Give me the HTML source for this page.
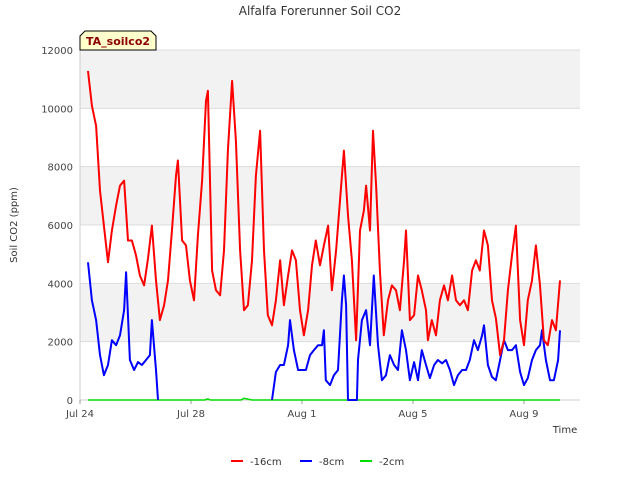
<!DOCTYPE html>
<html><head><meta charset="utf-8"><style>
body{margin:0;background:#fff;}
svg{display:block;font-family:"DejaVu Sans","Liberation Sans",sans-serif;}
</style></head><body>
<svg id="chart" width="640" height="480" viewBox="0 0 640 480">
<text x="320" y="15" text-anchor="middle" font-size="12" fill="#333">Alfalfa Forerunner Soil CO2</text>
<g id="plot"></g>
<text transform="translate(17,225) rotate(-90)" text-anchor="middle" font-size="10" fill="#333">Soil CO2 (ppm)</text>
<text x="565" y="433" text-anchor="middle" font-size="10" fill="#333">Time</text>
<g>
<path d="M80,50 L80,36 L85,31 L151,31 L156,36 L156,50 Z" fill="#ffffcc" stroke="#000" stroke-width="1"/>
<text x="86" y="45" font-size="11" font-weight="bold" fill="#8b0000">TA_soilco2</text>
</g>
<g>
<g><line x1="231" y1="461" x2="243" y2="461" stroke="#f00" stroke-width="2"/><text x="250" y="465" font-size="10" fill="#333">-16cm</text></g>
<g><line x1="300" y1="461" x2="312" y2="461" stroke="#00f" stroke-width="2"/><text x="319" y="465" font-size="10" fill="#333">-8cm</text></g>
<g><line x1="360" y1="461" x2="372" y2="461" stroke="#0d0" stroke-width="2"/><text x="379" y="465" font-size="10" fill="#333">-2cm</text></g>
</g>
</svg>
<script>
const yTicks=[0,2000,4000,6000,8000,10000,12000];
const xTickDays=[0,4,8,12,16];
const xTickLabels=["Jul 24","Jul 28","Aug 1","Aug 5","Aug 9"];
const redDays=[0.29,0.43,0.58,0.72,0.86,1.01,1.15,1.30,1.44,1.59,1.73,1.87,2.02,2.16,2.31,2.45,2.59,2.74,2.88,3.03,3.17,3.32,3.46,3.53,3.68,3.82,3.96,4.11,4.25,4.40,4.54,4.61,4.76,4.90,5.05,5.19,5.33,5.48,5.62,5.77,5.91,6.05,6.20,6.34,6.49,6.63,6.77,6.92,7.06,7.21,7.35,7.50,7.64,7.78,7.93,8.07,8.22,8.36,8.50,8.65,8.79,8.94,9.08,9.23,9.37,9.51,9.66,9.80,9.95,10.09,10.23,10.31,10.45,10.56,10.67,10.81,10.95,11.10,11.24,11.39,11.53,11.68,11.75,11.89,12.04,12.18,12.32,12.47,12.54,12.68,12.83,12.97,13.12,13.26,13.41,13.55,13.69,13.84,13.98,14.13,14.27,14.41,14.56,14.70,14.85,14.99,15.14,15.28,15.42,15.57,15.71,15.86,16.00,16.14,16.29,16.43,16.58,16.72,16.86,17.01,17.15,17.30];
const redValues=[11280,10090,9400,7180,5980,4720,5810,6670,7350,7520,5470,5470,4960,4270,3930,4850,5980,4100,2740,3250,4100,5880,7690,8210,5470,5300,4100,3420,5640,7520,10260,10600,4440,3760,3590,5130,8550,10940,8890,5130,3080,3250,4790,7690,9230,5130,2910,2560,3420,4790,3250,4270,5130,4790,3080,2220,3080,4620,5470,4620,5300,5980,3760,5130,6840,8550,6330,4790,2050,5810,6500,7350,5810,9230,7350,4440,2220,3420,3930,3760,3080,4790,5810,2740,2910,4270,3760,3080,2050,2740,2220,3420,3930,3420,4270,3420,3250,3420,3080,4440,4790,4440,5810,5300,3420,2800,1540,2050,3760,4960,5980,2740,1880,3420,4100,5300,3930,2050,1880,2740,2390,4100];
const blueDays=[0.29,0.43,0.58,0.72,0.86,1.01,1.15,1.30,1.44,1.59,1.66,1.80,1.95,2.09,2.23,2.38,2.52,2.59,2.74,2.81,null,6.92,7.06,7.21,7.35,7.50,7.57,7.71,7.86,8.00,8.14,8.29,8.43,8.58,8.72,8.79,8.86,9.01,9.15,9.30,9.44,9.51,9.59,9.66,9.98,10.02,10.16,10.31,10.45,10.59,10.74,10.88,11.03,11.17,11.32,11.46,11.60,11.75,11.89,12.04,12.18,12.32,12.47,12.61,12.76,12.90,13.05,13.19,13.33,13.48,13.62,13.77,13.91,14.05,14.20,14.34,14.49,14.56,14.70,14.85,14.99,15.14,15.28,15.42,15.57,15.71,15.86,16.00,16.14,16.29,16.43,16.58,16.65,16.79,16.94,17.08,17.23,17.30];
const blueValues=[4720,3420,2740,1540,850,1200,2050,1880,2220,3080,4380,1370,1030,1300,1200,1370,1540,2740,1030,0,null,0,960,1200,1200,1880,2740,1710,1030,1030,1030,1540,1710,1880,1880,2390,680,510,850,1030,3420,4270,3250,0,0,1370,2740,3080,1880,4270,1880,680,850,1540,1200,1030,2390,1710,680,1300,680,1710,1200,750,1200,1370,1260,1370,1030,510,850,1030,1030,1370,2050,1710,2220,2560,1200,790,680,1370,2050,1710,1710,1880,960,510,750,1370,1710,1880,2390,1370,680,680,1370,2390];
const greenDays=[0.29,4.50,4.61,4.70,5.80,5.91,6.05,6.20,17.30];
const greenValues=[0,0,40,0,0,60,30,0,0];

const NS="http://www.w3.org/2000/svg";
const L=80,R=580,T=50,B=400,D0=0,D1=18.02,V1=12000;
function xs(d){return L+(d-D0)/(D1-D0)*(R-L);}
function ys(v){return B-v/V1*(B-T);}
const plot=document.getElementById('plot');
function mk(tag,attrs){const e=document.createElementNS(NS,tag);for(const k in attrs)e.setAttribute(k,attrs[k]);plot.appendChild(e);return e;}
for(let i=0;i<yTicks.length-1;i++){
  if(i%2===1){
    const r=mk('rect',{x:L,y:ys(yTicks[i+1]),width:R-L,height:ys(yTicks[i])-ys(yTicks[i+1]),fill:'#f2f2f2'});
    
    
  }
}
yTicks.forEach(v=>{
  const g=mk('line',{x1:L,x2:R,y1:ys(v),y2:ys(v),stroke:'#dcdcdc','stroke-width':1});
  
  
  const t=mk('text',{x:73,y:ys(v)+4,'text-anchor':'end','font-size':10,fill:'#444'});
  t.textContent=v;
  
  
});
const ax=mk('line',{x1:L,x2:L,y1:T,y2:B,stroke:'#ccc'});


const ax2=mk('line',{x1:L,x2:R,y1:B,y2:B,stroke:'#ccc'});


xTickDays.forEach((d,i)=>{
  const tk=mk('line',{x1:xs(d),x2:xs(d),y1:B,y2:B+4,stroke:'#999'});
  
  
  const t=mk('text',{x:xs(d),y:B+17,'text-anchor':'middle','font-size':10,fill:'#444'});
  t.textContent=xTickLabels[i];
  
  
});
function pathD(ds,vs){let s='',pen=false;for(let i=0;i<ds.length;i++){if(ds[i]===null||vs[i]===null){pen=false;continue;}s+=(pen?'L':'M')+xs(ds[i]).toFixed(1)+','+ys(vs[i]).toFixed(1);pen=true;}return s;}
const gp=mk('path',{d:pathD(greenDays,greenValues),fill:'none',stroke:'#0d0','stroke-width':1.5});


const bp=mk('path',{d:pathD(blueDays,blueValues),fill:'none',stroke:'#00f','stroke-width':2,'stroke-linejoin':'round'});


const rp=mk('path',{d:pathD(redDays,redValues),fill:'none',stroke:'#f00','stroke-width':2,'stroke-linejoin':'round'});


</script>
</body></html>
